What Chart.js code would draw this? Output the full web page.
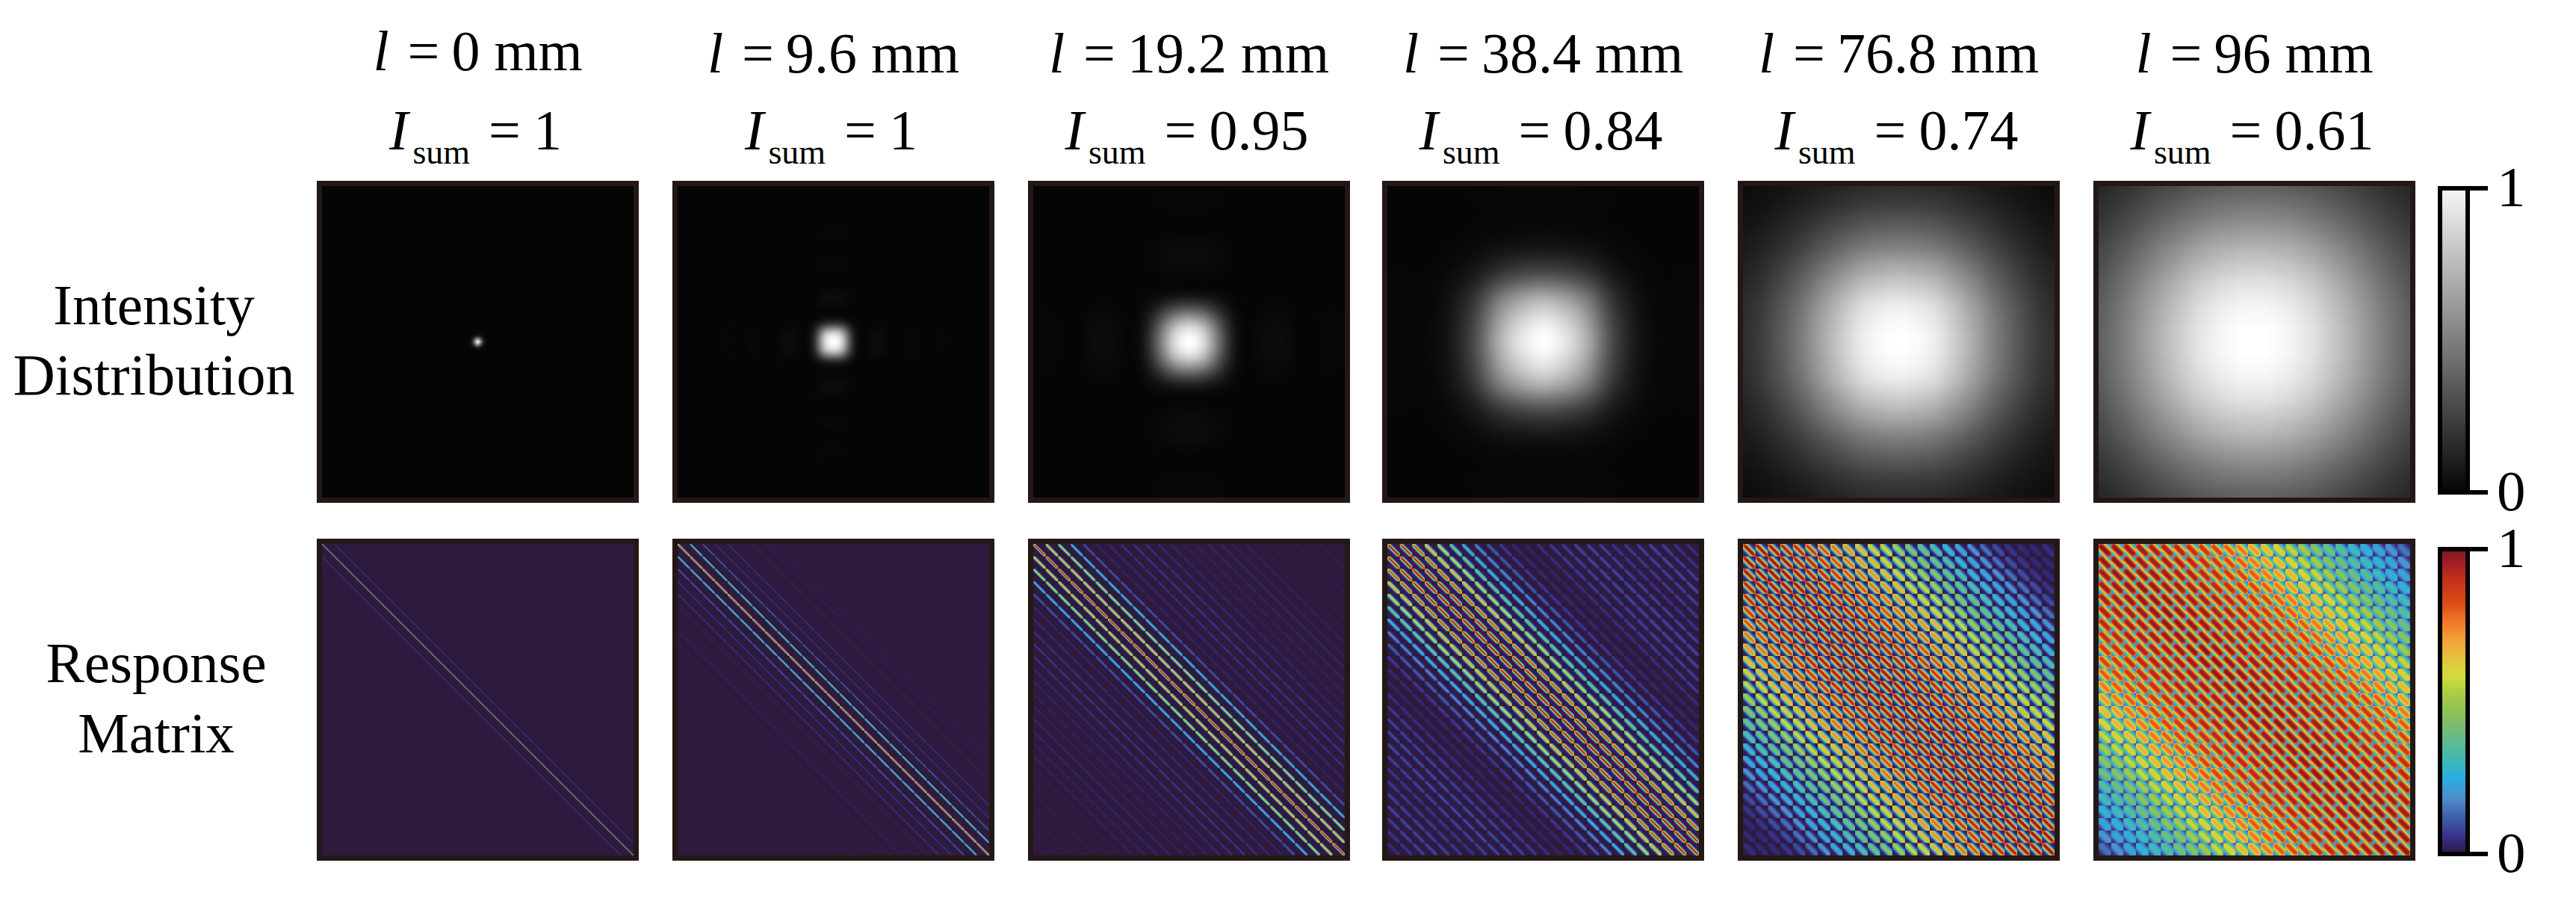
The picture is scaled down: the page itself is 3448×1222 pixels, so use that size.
<!DOCTYPE html>
<html>
<head>
<meta charset="utf-8">
<script src="https://cdn.jsdelivr.net/npm/chart.js@4"></script>
<style>
  html, body { margin: 0; background: #fff; }
  #page { position: relative; width: 3448px; height: 1222px; overflow: hidden; font-family: "Liberation Serif", serif; color: #000; }
  .panel { position: absolute; box-sizing: border-box; width: 431px; height: 431px; border: 7px solid #231815; }
  .panel canvas, .bar { position: absolute; left: 0; top: 0; }
  .txt { position: absolute; white-space: pre; line-height: 1; }
  i { font-style: italic; }
</style>
</head>
<body>
<div id="page"></div>
<script>
const lengths = ['0', '9.6', '19.2', '38.4', '76.8', '96']
const sums = ['1', '1', '0.95', '0.84', '0.74', '0.61']
const barTicks = [0, 1]
const barStops = [0, 0.03, 0.067, 0.125, 0.183, 0.25, 0.317, 0.383, 0.45, 0.517, 0.583, 0.64, 0.7, 0.767, 0.825, 0.9, 0.95, 1]
const turboColors = ['#2d1a3c', '#33236a', '#39398f', '#3f62ab', '#4f8fcc', '#27aee0', '#45b9b0', '#68ba85', '#88bf5e', '#a5ca46', '#d1dc3c', '#e4c23e', '#f3a23a', '#ee7527', '#da4a15', '#c3301e', '#a52025', '#7a1a20']

// intensity along the centre line, from the middle out to the edge
// first three panels in 4px steps, last three in 8px steps
const spot0 = [1, .55, .1, .01, 0, 0, 0, 0, 0, 0, 0, 0, 0, 0, 0, 0, 0, 0, 0, 0, 0, 0, 0, 0, 0, 0, 0, 0, 0, 0, 0, 0, 0, 0, 0, 0, 0, 0, 0, 0, 0, 0, 0, 0, 0, 0, 0, 0, 0, 0, 0, 0, 0]
const spot1 = [1, .98, .92, .8, .62, .42, .24, .11, .04, .01, 0, .003, .01, .02, .025, .03, .025, .02, .01, .005, .002, 0, 0, .002, .005, .008, .01, .01, .008, .005, .002, 0, 0, .002, .005, .006, .008, .008, .006, .004, .002, 0, 0, 0, 0, 0, 0, 0, 0, 0, 0, 0, 0]
const spot2 = [1, .99, .97, .94, .895, .84, .77, .69, .61, .52, .43, .35, .27, .2, .14, .09, .05, .025, .01, .003, 0, .004, .008, .012, .016, .02, .024, .027, .03, .03, .03, .028, .025, .022, .017, .012, .007, .003, .001, 0, 0, 0, .001, .003, .004, .005, .006, .008, .008, .008, .008, .006, .005]
const spot3 = [1, .99, .965, .93, .89, .84, .78, .71, .63, .53, .43, .34, .26, .2, .15, .105, .07, .045, .028, .016, .01, .007, .007, .008, .01, .01, .008]
const spot4 = [1, 1, .99, .98, .97, .95, .93, .9, .86, .82, .78, .74, .69, .65, .6, .55, .5, .46, .42, .38, .34, .31, .27, .24, .21, .19, .17]
const spot5 = [1, 1, 1, .99, .98, .97, .96, .94, .92, .9, .88, .85, .82, .79, .76, .73, .7, .66, .63, .59, .56, .52, .49, .46, .43, .4, .37]
const spots = [spot0, spot1, spot2, spot3, spot4, spot5]

// response level by block distance from the diagonal (25 blocks)
const band0 = [1, .08, .02, 0, 0, 0, 0, 0, 0, 0, 0, 0, 0, 0, 0, 0, 0, 0, 0, 0, 0, 0, 0, 0, 0]
const band1 = [.88, .36, .11, .05, .05, .015, .015, .02, .015, .008, .008, .008, .008, .005, .005, .005, 0, 0, 0, 0, 0, 0, 0, 0, 0]
const band2 = [.98, .74, .56, .28, .11, .03, .04, .05, .06, .05, .04, .03, .02, .02, .03, .03, .02, .02, .01, .01, .01, .01, .01, .01, .01]
const band3 = [1, .96, .88, .72, .58, .42, .28, .18, .12, .07, .04, .03, .05, .07, .08, .09, .09, .08, .06, .07, .08, .09, .08, .06, .05]
const band4 = [1, .99, .98, .96, .94, .9, .85, .8, .75, .7, .65, .6, .54, .48, .42, .36, .3, .25, .2, .15, .1, .06, .04, .04, .05]
const band5 = [1, .99, .98, .97, .96, .95, .93, .91, .88, .85, .81, .77, .72, .67, .62, .57, .52, .47, .42, .37, .32, .28, .24, .2, .15]
const bands = [band0, band1, band2, band3, band4, band5]

// response level inside a block by distance from the block's own diagonal
const stripe0 = [1, .36, .04, 0, 0, 0, 0, 0, 0, 0, 0, 0, 0, 0, 0, 0, 0, 0, 0, 0, 0, 0, 0, 0, 0]
const stripe1 = [1, .85, .45, .12, .02, 0, 0, 0, 0, 0, 0, 0, 0, 0, 0, 0, 0, 0, 0, 0, 0, 0, 0, 0, 0]
const stripe2 = [1, .92, .72, .42, .18, .05, .01, 0, 0, 0, 0, 0, 0, 0, 0, 0, 0, 0, 0, 0, 0, 0, 0, 0, 0]
const stripe3 = [1, .96, .85, .68, .5, .32, .18, .09, .05, .03, .02, .01, .01, .01, .01, .01, .01, .01, .01, .01, .01, .01, .01, .01, .01]
const stripe4 = [1, .99, .96, .91, .85, .76, .66, .55, .44, .33, .24, .17, .11, .08, .06, .05, .04, .03, .03, .03, .03, .02, .02, .02, .02]
const stripe5 = [1, 1, .99, .98, .96, .93, .9, .86, .81, .75, .69, .62, .55, .49, .43, .38, .34, .3, .27, .24, .21, .19, .17, .15, .14]
const stripes = [stripe0, stripe1, stripe2, stripe3, stripe4, stripe5]

// how far a stripe fades towards the corners of its block
const taper = [1, 1, 1, 1, 1, 1, 1, 1, 1, 1, 1, 1, 1, 1, 1, .99, .98, .97, .95, .93, .9, .87, .83, .78, .72]

const panelLefts = [424, 900, 1376, 1850, 2326, 2802]
const page = document.getElementById('page')

const hexToRgb = (h) => [1, 3, 5].map((k) => parseInt(h.substr(k, 2), 16))

const turbo = (v) => {
  let k = 1
  while (k < barStops.length - 1 && barStops[k] < v) k++
  const t = Math.min(1, (v - barStops[k - 1]) / (barStops[k] - barStops[k - 1]))
  const a = hexToRgb(turboColors[k - 1]),
    b = hexToRgb(turboColors[k])
  return a.map((c, n) => c + (b[n] - c) * t)
}
const turboTable = []
for (let i = 0; i <= 1000; i++) turboTable.push(turbo(i / 1000))

const makeRaster = (size, getRgb) => {
  const off = document.createElement('canvas')
  off.width = off.height = size
  const ctx = off.getContext('2d')
  const img = ctx.createImageData(size, size)
  let p = 0
  for (let row = 0; row < size; row++) {
    for (let col = 0; col < size; col++) {
      const c = getRgb(row, col)
      img.data[p++] = c[0]
      img.data[p++] = c[1]
      img.data[p++] = c[2]
      img.data[p++] = 255
    }
  }
  ctx.putImageData(img, 0, 0)
  return off
}

const spotRaster = (spot) => {
  const half = spot.length - 1
  return makeRaster(half * 2 + 1, (row, col) => {
    const g = 5 + 250 * spot[Math.abs(row - half)] * spot[Math.abs(col - half)]
    return [g, g, g]
  })
}

const matrixRaster = (band, stripe) =>
  makeRaster(625, (row, col) => {
    const bi = Math.floor(row / 25),
      bk = Math.floor(col / 25),
      j = row % 25,
      l = col % 25
    const v = band[Math.abs(bi - bk)] * stripe[Math.abs(j - l)] * taper[Math.abs(j + l - 24)]
    return turboTable[Math.round(Math.min(1, v) * 1000)]
  })

// draws the raster as cells on the chart's own scales
const heatPlugin = (raster) => ({
  id: 'heat',
  beforeDatasetsDraw(chart) {
    const { x, y } = chart.scales
    const x0 = x.getPixelForValue(-0.5),
      x1 = x.getPixelForValue(raster.width - 0.5),
      y0 = y.getPixelForValue(-0.5),
      y1 = y.getPixelForValue(raster.height - 0.5)
    const ctx = chart.ctx
    ctx.save()
    ctx.imageSmoothingEnabled = true
    ctx.imageSmoothingQuality = 'high'
    ctx.drawImage(raster, x0, y0, x1 - x0, y1 - y0)
    ctx.restore()
  },
})

const createPanel = (left, top, raster, label) => {
  const box = document.createElement('div')
  box.className = 'panel'
  box.style.left = left + 'px'
  box.style.top = top + 'px'
  const canvas = document.createElement('canvas')
  canvas.width = canvas.height = 417
  box.appendChild(canvas)
  page.appendChild(box)
  new Chart(canvas, {
    type: 'scatter',
    data: { datasets: [{ label: label, data: [] }] },
    options: {
      responsive: false,
      animation: false,
      devicePixelRatio: 1,
      layout: { padding: 0 },
      plugins: { legend: { display: false }, tooltip: { enabled: false } },
      scales: {
        x: { display: false, min: -0.5, max: raster.width - 0.5 },
        y: { display: false, reverse: true, min: -0.5, max: raster.height - 0.5 },
      },
    },
    plugins: [heatPlugin(raster)],
  })
}

const barPlugin = (colors) => ({
  id: 'bar',
  beforeDatasetsDraw(chart) {
    const { y } = chart.scales
    const a = chart.chartArea,
      ctx = chart.ctx
    const grad = ctx.createLinearGradient(0, y.getPixelForValue(0), 0, y.getPixelForValue(1))
    colors.forEach((c) => grad.addColorStop(c[0], c[1]))
    ctx.fillStyle = grad
    ctx.fillRect(a.left, a.top, a.width, a.height)
  },
  afterDraw(chart) {
    const a = chart.chartArea,
      ctx = chart.ctx
    ctx.strokeStyle = '#000'
    ctx.lineWidth = 6
    ctx.strokeRect(a.left, a.top, a.width, a.height)
  },
})

const createBar = (top, height, padTop, padBottom, colors) => {
  const canvas = document.createElement('canvas')
  canvas.className = 'bar'
  canvas.width = 185
  canvas.height = height
  canvas.style.left = '3263px'
  canvas.style.top = top + 'px'
  page.appendChild(canvas)
  new Chart(canvas, {
    type: 'scatter',
    data: { datasets: [{ data: [] }] },
    options: {
      responsive: false,
      animation: false,
      devicePixelRatio: 1,
      layout: { padding: { left: 3, top: padTop, bottom: padBottom, right: 0 } },
      plugins: { legend: { display: false }, tooltip: { enabled: false } },
      scales: {
        x: { display: false, min: 0, max: 1 },
        y: {
          position: 'right',
          min: barTicks[0],
          max: barTicks[1],
          afterBuildTicks: (s) => {
            s.ticks = barTicks.map((v) => ({ value: v }))
          },
          afterFit: (s) => {
            s.width = 145
            // the labels may hang over the ends, the bar has to stay put
            s.paddingTop = 0
            s.paddingBottom = 0
          },
          border: { display: true, color: '#000', width: 6 },
          grid: { drawOnChartArea: false, color: '#000', lineWidth: 6, tickLength: 27, tickWidth: 6 },
          ticks: { color: '#000', padding: 12, labelOffset: 4, font: { family: 'Liberation Serif', size: 77 } },
        },
      },
    },
    plugins: [barPlugin(colors)],
  })
}

// places text by its baseline
const addText = (html, x, baseline, size, anchor) => {
  const el = document.createElement('div')
  el.className = 'txt'
  el.innerHTML = html
  el.style.fontSize = size + 'px'
  el.style.left = x + 'px'
  el.style.top = baseline - 0.8375 * size + 'px'
  if (anchor === 'middle') el.style.transform = 'translateX(-50%)'
  page.appendChild(el)
}

panelLefts.forEach((left, n) => {
  createPanel(left, 242, spotRaster(spots[n]), 'Intensity l=' + lengths[n])
  createPanel(left, 721, matrixRaster(bands[n], stripes[n]), 'Response l=' + lengths[n])

  const mid = left + 215.5
  const base1 = n === 0 ? 94 : 97
  addText(
    `<i>l</i><span style="margin:0 16px 0 25px">=</span>${lengths[n]} mm`,
    mid,
    base1,
    76,
    'middle'
  )
  addText(
    `<i>I</i><span style="font-size:46px;position:relative;top:19px;margin-left:6px">sum</span><span style="margin:0 17px 0 25px">=</span>${sums[n]}`,
    mid - 3,
    200,
    76,
    'middle'
  )
})

addText('Intensity', 206, 434, 77, 'middle')
addText('Distribution', 206, 528, 78, 'middle')
addText('Response', 209, 913, 77, 'middle')
addText('Matrix', 209, 1007, 77, 'middle')

const grayStops = [[0, '#050505'], [1, '#f7f7f7']]
createBar(200, 500, 52, 41, grayStops)
createBar(700, 500, 35, 57, barStops.map((s, k) => [s, turboColors[k]]))
</script>
</body>
</html>
